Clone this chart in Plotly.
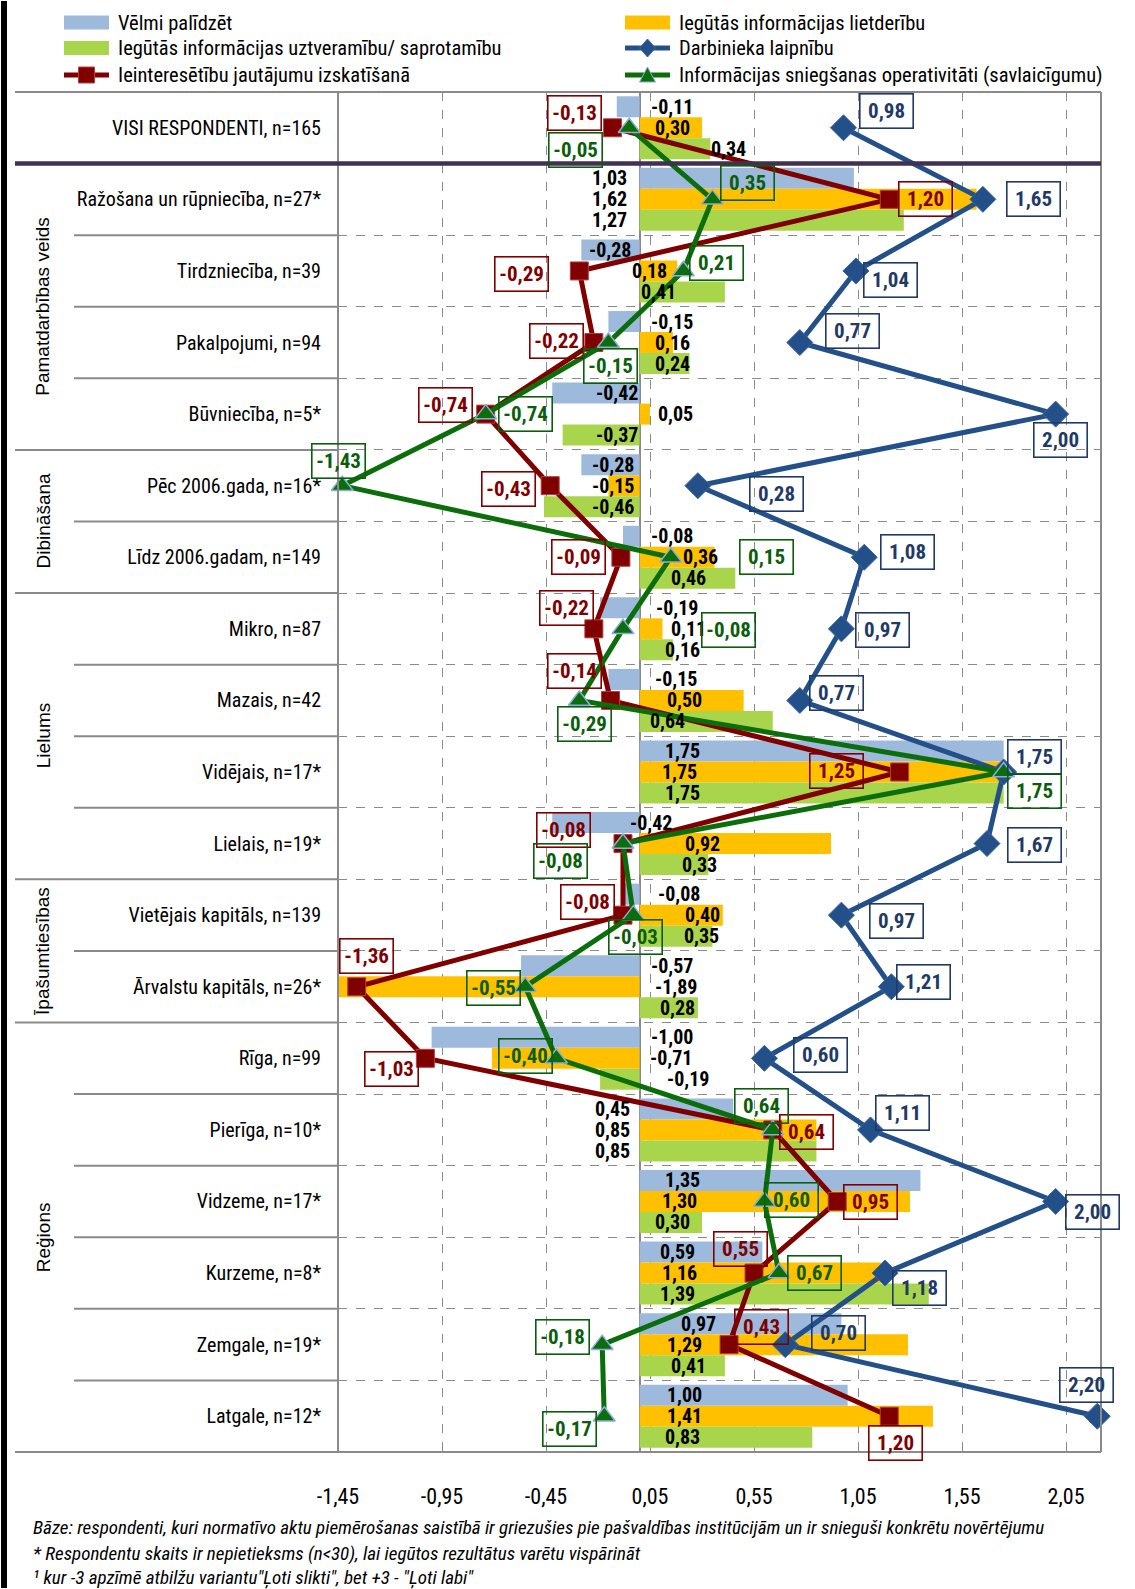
import plotly.graph_objects as go

# ---------------- DATA ----------------
categories = [
    "VISI RESPONDENTI, n=165", "Ražošana un rūpniecība, n=27*", "Tirdzniecība, n=39",
    "Pakalpojumi, n=94", "Būvniecība, n=5*", "Pēc 2006.gada, n=16*", "Līdz 2006.gadam, n=149",
    "Mikro, n=87", "Mazais, n=42", "Vidējais, n=17*", "Lielais, n=19*",
    "Vietējais kapitāls, n=139", "Ārvalstu kapitāls, n=26*", "Rīga, n=99", "Pierīga, n=10*",
    "Vidzeme, n=17*", "Kurzeme, n=8*", "Zemgale, n=19*", "Latgale, n=12*",
]
velmi_palidzet = [-0.11, 1.03, -0.28, -0.15, -0.42, -0.28, -0.08, -0.19, -0.15, 1.75,
                  -0.42, -0.08, -0.57, -1.00, 0.45, 1.35, 0.59, 0.97, 1.00]
lietderibu = [0.30, 1.62, 0.18, 0.16, 0.05, -0.15, 0.36, 0.11, 0.50, 1.75,
              0.92, 0.40, -1.89, -0.71, 0.85, 1.30, 1.16, 1.29, 1.41]
uztveramibu = [0.34, 1.27, 0.41, 0.24, -0.37, -0.46, 0.46, 0.16, 0.64, 1.75,
               0.33, 0.35, 0.28, -0.19, 0.85, 0.30, 1.39, 0.41, 0.83]
laipnibu = [0.98, 1.65, 1.04, 0.77, 2.00, 0.28, 1.08, 0.97, 0.77, 1.75,
            1.67, 0.97, 1.21, 0.60, 1.11, 2.00, 1.18, 0.70, 2.20]
ieinteresetibu = [-0.13, 1.20, -0.29, -0.22, -0.74, -0.43, -0.09, -0.22, -0.14, 1.25,
                  -0.08, -0.08, -1.36, -1.03, 0.64, 0.95, 0.55, 0.43, 1.20]
operativitati = [-0.05, 0.35, 0.21, -0.15, -0.74, -1.43, 0.15, -0.08, -0.29, 1.75,
                 -0.08, -0.03, -0.55, -0.40, 0.64, 0.60, 0.67, -0.18, -0.17]

series_names = [
    "Vēlmi palīdzēt",
    "Iegūtās informācijas lietderību",
    "Iegūtās informācijas uztveramību/ saprotamību",
    "Darbinieka laipnību",
    "Ieinteresētību jautājumu izskatīšanā",
    "Informācijas sniegšanas operativitāti (savlaicīgumu)",
]

groups = [("Pamatdarbības veids", 1, 4), ("Dibināšana", 5, 6), ("Lielums", 7, 10),
          ("Īpašumtiesības", 11, 12), ("Reģions", 13, 18)]

x_tick_values = [-1.45, -0.95, -0.45, 0.05, 0.55, 1.05, 1.55, 2.05]
x_tick_labels = ["-1,45", "-0,95", "-0,45", "0,05", "0,55", "1,05", "1,55", "2,05"]

footnotes = [
    "Bāze: respondenti, kuri normatīvo aktu piemērošanas saistībā ir griezušies pie pašvaldības institūcijām un ir snieguši konkrētu novērtējumu",
    "* Respondentu skaits ir nepietieksms (n<30), lai iegūtos rezultātus varētu vispārināt",
    "¹ kur -3 apzīmē atbilžu variantu\"Ļoti slikti\", bet +3 - \"Ļoti labi\"",
]

# ---------------- STYLE / LABEL PLACEMENT ----------------
C_BLUE = "#9DB9DC"
C_YELLOW = "#FFC000"
C_GREEN = "#A9D54C"
C_NAVY = "#24508A"
C_RED = "#800000"
C_DGREEN = "#0B6E0B"
NARROW = "Liberation Sans Narrow, Arial Narrow, Roboto Condensed, DejaVu Sans Condensed, sans-serif"
REG = "Liberation Sans, Arial, sans-serif"

# bar value label anchors (x in data units) and side: l = text to the right, r = text to the left
bar_label_x = [
    [0.046, 0.066, 0.334], [-0.051, -0.051, -0.051], [-0.032, -0.046, -0.002],
    [0.046, 0.066, 0.066], [0.0, 0.08, 0.0], [-0.017, -0.017, -0.017],
    [0.046, 0.197, 0.139], [0.07, 0.14, 0.114], [0.066, 0.12, 0.04],
    [0.114, 0.10, 0.114], [-0.056, 0.207, 0.192], [0.08, 0.207, 0.202],
    [0.046, 0.066, 0.09], [0.046, 0.04, 0.12], [-0.037, -0.037, -0.037],
    [0.114, 0.10, 0.066], [0.09, 0.10, 0.09], [0.19, 0.124, 0.139], [0.12, 0.12, 0.114],
]
bar_label_side = ["lll", "rrr", "rll", "lll", "rlr", "rrr", "lll", "lll", "lll", "lll",
                  "lll", "lll", "lll", "lll", "rrr", "lll", "lll", "lll", "lll"]
# boxed line-label offsets in pixels (dx, dy) from the marker
off_laip = [(43, -17), (51, 0), (35, 9), (53, -12), (5, 26), (79, 8), (43, -5), (41, 1), (37, -7),
            (31, -15), (47, 1), (55, 6), (32, -5), (56, -3), (32, -17), (37, 11), (34, 15), (53, -12), (-11, -31)]
off_iein = [(-38, -15), (36, 0), (-58, 3), (-37, -2), (-40, -9), (-42, 3), (-42, 0), (-27, -21), (-36, -29),
            (-63, -1), (-59, -14), (-35, -13), (10, -31), (-34, 11), (34, 2), (33, 1), (-14, -24), (32, -18), (6, 27)]
off_oper = [(-54, 22), (35, -16), (33, -8), (2, 23), (40, 0), (-4, -25), (96, 0), (106, 1), (5, 24),
            (31, 19), (-62, 17), (2, 22), (-32, 1), (-31, -2), (-11, -24), (27, -1), (36, 0), (-40, -8), (-35, 13)]

W, H = 1135, 1589
ML, MR, MT, MB = 338, 34, 92, 137
PW, PH = W - ML - MR, H - MT - MB


def X(px):
    return (px - ML) / PW


def Y(py):
    return 1 - (py - MT) / PH


def fmt(v):
    return f"{v:.2f}".replace(".", ",")


rows = list(range(len(categories)))
fig = go.Figure()

for vals, col, name in [(velmi_palidzet, C_BLUE, series_names[0]),
                        (lietderibu, C_YELLOW, series_names[1]),
                        (uztveramibu, C_GREEN, series_names[2])]:
    fig.add_trace(go.Bar(x=vals, y=rows, orientation="h", marker=dict(color=col, line=dict(width=0)),
                         name=name, showlegend=False))

fig.add_trace(go.Scatter(x=laipnibu, y=rows, mode="lines+markers", name=series_names[3], showlegend=False,
                         line=dict(color=C_NAVY, width=5),
                         marker=dict(symbol="diamond", size=20, color=C_NAVY, line=dict(color="#3A66A0", width=1)),
                         cliponaxis=False))
fig.add_trace(go.Scatter(x=ieinteresetibu, y=rows, mode="lines+markers", name=series_names[4], showlegend=False,
                         line=dict(color=C_RED, width=5),
                         marker=dict(symbol="square", size=18, color=C_RED, line=dict(color="#B04040", width=1)),
                         cliponaxis=False))
fig.add_trace(go.Scatter(x=operativitati, y=rows, mode="lines+markers", name=series_names[5], showlegend=False,
                         line=dict(color=C_DGREEN, width=5),
                         marker=dict(symbol="triangle-up", size=19, color=C_DGREEN, line=dict(color="#8FAADC", width=1.5)),
                         cliponaxis=False))

annotations = []
# bar value labels
bar_series = [velmi_palidzet, lietderibu, uztveramibu]
bar_off = [-0.2933, 0.0, 0.2933]
for i in rows:
    for k in range(3):
        side = bar_label_side[i][k]
        annotations.append(dict(x=bar_label_x[i][k], y=i + bar_off[k], xref="x", yref="y",
                                text=fmt(bar_series[k][i]), showarrow=False,
                                xanchor="left" if side == "l" else "right", yanchor="middle",
                                font=dict(family=NARROW, size=20, color="black", weight="bold")))

# boxed line labels
for vals, offs, col in [(laipnibu, off_laip, "#1F3A66"), (ieinteresetibu, off_iein, C_RED), (operativitati, off_oper, "#0B5E0B")]:
    for i in rows:
        dx, dy = offs[i]
        annotations.append(dict(x=vals[i], y=i, xref="x", yref="y", text=fmt(vals[i]), showarrow=False,
                                xanchor="center", yanchor="middle", xshift=dx, yshift=-dy,
                                font=dict(family=NARROW, size=21, color=col, weight="bold"),
                                bordercolor=col, borderwidth=1.6, borderpad=3, bgcolor="rgba(0,0,0,0)",
                                width=46, height=27))

# group labels
for gname, a, b in groups:
    annotations.append(dict(x=X(43), y=(a + b) / 2, xref="paper", yref="y", text=gname, textangle=-90,
                            showarrow=False, xanchor="center", yanchor="middle",
                            font=dict(family=REG, size=19, color="black")))

# footnotes
for t, py in zip(footnotes, [1527, 1553, 1578]):
    annotations.append(dict(x=X(31), y=Y(py), xref="paper", yref="paper", text=f"<i>{t}</i>",
                            showarrow=False, xanchor="left", yanchor="middle",
                            font=dict(family=NARROW, size=19, color="black")))

shapes = []
GRAY = "#8A8A8A"
# legend
leg = [
    (series_names[0], "bar", C_BLUE, 64, 22.5),
    (series_names[1], "bar", C_YELLOW, 625, 22.5),
    (series_names[2], "bar", C_GREEN, 64, 48),
    (series_names[3], "diamond", C_NAVY, 625, 48),
    (series_names[4], "square", C_RED, 64, 75),
    (series_names[5], "triangle", C_DGREEN, 625, 75),
]
for name, kind, col, x0, yc in leg:
    if kind == "bar":
        shapes.append(dict(type="rect", xref="paper", yref="paper", x0=X(x0), x1=X(x0 + 45),
                           y0=Y(yc - 7), y1=Y(yc + 7), fillcolor=col, line=dict(width=0)))
    else:
        shapes.append(dict(type="line", xref="paper", yref="paper", x0=X(x0), x1=X(x0 + 45),
                           y0=Y(yc), y1=Y(yc), line=dict(color=col, width=5)))
        if kind == "diamond":
            path = "M -8 0 L 0 9 L 8 0 L 0 -9 Z"
            lc = "#3A66A0"
        elif kind == "square":
            path = "M -8 -8 L 8 -8 L 8 8 L -8 8 Z"
            lc = "#B04040"
        else:
            path = "M -8 -7 L 8 -7 L 0 8 Z"
            lc = "#8FAADC"
        shapes.append(dict(type="path", xref="paper", yref="paper", xsizemode="pixel", ysizemode="pixel",
                           xanchor=X(x0 + 22.5), yanchor=Y(yc), path=path, fillcolor=col,
                           line=dict(color=lc, width=1)))
    annotations.append(dict(x=X(x0 + 52), y=Y(yc), xref="paper", yref="paper", text=name, showarrow=False,
                            xanchor="left", yanchor="middle", font=dict(family=NARROW, size=20.5, color="black")))

# frame lines
shapes.append(dict(type="line", xref="paper", yref="paper", x0=X(15), x1=1, y0=1, y1=1,
                   line=dict(color=GRAY, width=2)))
shapes.append(dict(type="line", xref="paper", yref="paper", x0=X(15), x1=1, y0=0, y1=0,
                   line=dict(color=GRAY, width=2)))
shapes.append(dict(type="line", xref="paper", yref="paper", x0=0, x1=0, y0=0, y1=1,
                   line=dict(color=GRAY, width=2)))
shapes.append(dict(type="line", xref="paper", yref="paper", x0=1, x1=1, y0=0, y1=1,
                   line=dict(color=GRAY, width=2)))
# row separators in the label area
group_starts = {g[1] for g in groups}
for i in range(2, len(categories)):
    yb = i - 0.5
    x_start = X(15) if i in group_starts else X(74)
    shapes.append(dict(type="line", xref="paper", yref="y", x0=x_start, x1=0, y0=yb, y1=yb,
                       line=dict(color=GRAY, width=2)))
# purple separator after total row
shapes.append(dict(type="line", xref="paper", yref="y", x0=X(15), x1=1, y0=0.5, y1=0.5,
                   line=dict(color="#403152", width=4.5)))
# black left frame edge
shapes.append(dict(type="rect", xref="paper", yref="paper", x0=X(1), x1=X(7), y0=Y(H - 1), y1=Y(1),
                   fillcolor="black", line=dict(width=0), layer="above"))

fig.update_layout(
    width=W, height=H,
    margin=dict(l=ML, r=MR, t=MT, b=MB),
    paper_bgcolor="white", plot_bgcolor="white",
    barmode="group", bargap=0.12, bargroupgap=0,
    showlegend=False,
    annotations=annotations, shapes=shapes,
    xaxis=dict(range=[-1.45, 2.218], tickvals=x_tick_values, ticktext=x_tick_labels,
               showgrid=True, gridcolor=GRAY, griddash="dash", gridwidth=1.3,
               zeroline=True, zerolinecolor=GRAY, zerolinewidth=2,
               ticks="outside", ticklen=25, tickcolor="rgba(0,0,0,0)",
               tickfont=dict(family=NARROW, size=22, color="black"), showline=False),
    yaxis=dict(range=[len(categories) - 0.5, -0.5], tickvals=rows, ticktext=categories,
               showgrid=False, zeroline=False, showline=False,
               ticks="outside", ticklen=12, tickcolor="rgba(0,0,0,0)",
               tickfont=dict(family=NARROW, size=20, color="black"),
               minor=dict(tickvals=[r + 0.5 for r in rows[:-1]], showgrid=True, gridcolor=GRAY,
                          griddash="dash", gridwidth=1.3, ticks="")),
)

fig.write_html("out.html", config={"displayModeBar": False},
               post_script="document.body.style.margin='0';document.body.style.overflow='hidden';")
